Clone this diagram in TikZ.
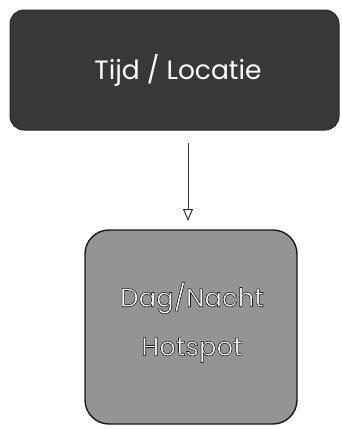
\documentclass[tikz,border=0pt]{standalone}
\usepackage{fontspec}
\setmainfont{Poppins}
\usetikzlibrary{arrows.meta}
\newcommand\outlinetext[1]{\textcolor{white}{\special{pdf:literal direct 2 Tr 0.6 w 0.1 0.1 0.1 RG}#1\special{pdf:literal direct 0 Tr}}}
\begin{document}
\begin{tikzpicture}[x=1pt,y=-1pt,
  topbox/.style={draw=black!85,line width=1pt,fill=black!78,rounded corners=14pt},
  botbox/.style={draw=black!90,line width=1.4pt,fill=black!42,rounded corners=24pt},
  toptext/.style={text=white,font=\fontsize{26.5}{30}\selectfont},
  bottext/.style={font=\fontsize{26}{30}\selectfont},
  conn/.style={draw=black!80,line width=1pt,-{Triangle[open,length=12pt,width=10pt]}}]
\useasboundingbox (0,0) rectangle (341,429);
\path[topbox] (10,10) rectangle (339,130);
\node[toptext] (t) at (178,70) {Tijd / Locatie};
\coordinate (top) at (188,143);
\path[botbox] (85,230) rectangle (297,424);
\coordinate (bot) at (188,221);
\node[bottext] (d) at (192,298) {\outlinetext{Dag/Nacht}};
\node[bottext] (h) at (192,350) {\outlinetext{Hotspot}};
\draw[conn] (top) -- (bot);
\end{tikzpicture}
\end{document}
